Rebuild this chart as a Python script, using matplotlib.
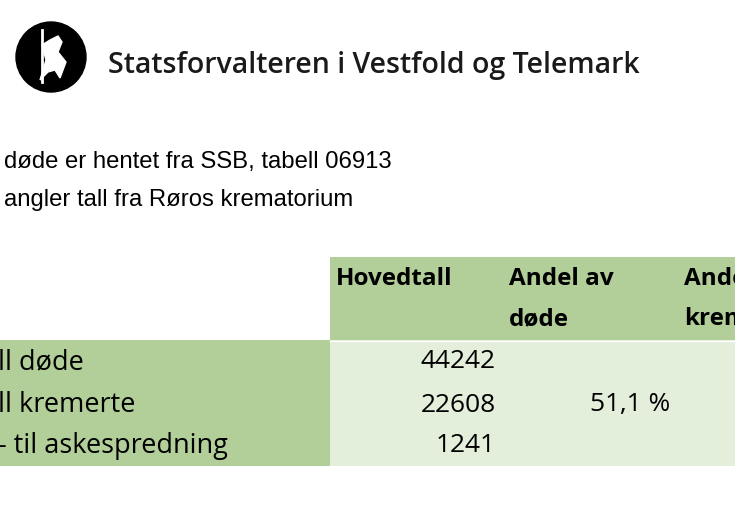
import matplotlib
matplotlib.use("Agg")
import matplotlib.pyplot as plt
from matplotlib.patches import Rectangle, Circle, Polygon

title = "Statsforvalteren i Vestfold og Telemark"
notes = ["døde er hentet fra SSB, tabell 06913", "angler tall fra Røros krematorium"]
col_headers = [["Hovedtall"], ["Andel av", "døde"], ["Andel", "kremerte"]]
row_labels = ["ll døde", "ll kremerte", "- til askespredning"]
hovedtall = ["44242", "22608", "1241"]
andel_dode = ["", "51,1 %", ""]

DARK = "#b2cf99"
LIGHT = "#e3eedb"
FONT = "Open Sans"

fig = plt.figure(figsize=(7.35, 5.14), dpi=100)
ax = fig.add_axes([0, 0, 1, 1])
ax.set_xlim(0, 735); ax.set_ylim(514, 0); ax.axis("off")

# logo
ax.add_patch(Circle((51, 57), 35, color="black"))
ax.add_patch(Polygon([(40, 80), (46, 60), (42, 45), (50, 40), (58, 36), (62, 42),
                      (58, 52), (66, 62), (60, 78), (55, 70), (48, 72)],
                     closed=True, color="white"))
ax.plot([42, 42], [82, 30], color="white", lw=2)
ax.text(108, 66, title, fontsize=20.5, fontweight="semibold", fontfamily=FONT,
        va="center", ha="left", color="#1a1a1a")

for i, n in enumerate(notes):
    ax.text(4, 162 + 38 * i, n, fontsize=17.2, fontfamily="Liberation Sans", va="center", ha="left")

# table
ax.add_patch(Rectangle((330, 257), 405, 83, color=DARK, lw=0))
ax.add_patch(Rectangle((0, 340), 330, 126, color=DARK, lw=0))
ax.add_patch(Rectangle((330, 340), 405, 126, color=LIGHT, lw=0))
ax.plot([330, 735], [340.5, 340.5], color="white", lw=1)

hx = [336, 509, 684]
for x, lines in zip(hx, col_headers):
    for j, t in enumerate(lines):
        ax.text(x, 279 + 40 * j, t, fontsize=17.5, fontweight="bold", fontfamily=FONT,
                va="center", ha="left")

ys = [362, 405, 446]
for y, lab, v, a in zip(ys, row_labels, hovedtall, andel_dode):
    ax.text(-2, y, lab, fontsize=19.5, fontfamily=FONT, va="center", ha="left")
    ax.text(496, y, v, fontsize=19, fontfamily=FONT, va="center", ha="right")
    if a:
        ax.text(670, y, a, fontsize=19, fontfamily=FONT, va="center", ha="right")

fig.savefig("out.png", dpi=100)
